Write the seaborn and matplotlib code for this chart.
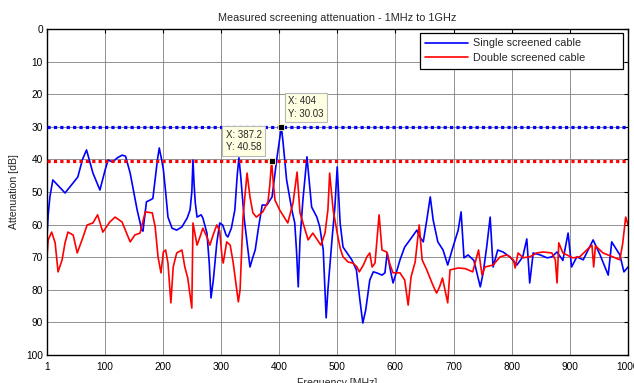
import matplotlib
matplotlib.use("Agg")
import matplotlib.pyplot as plt
import seaborn as sns
import pandas as pd

title = "Measured screening attenuation - 1MHz to 1GHz"
xlabel = "Frequency [MHz]"
ylabel = "Attenuation [dB]"
xticks = [1, 100, 200, 300, 400, 500, 600, 700, 800, 900, 1000]
yticks = [0, 10, 20, 30, 40, 50, 60, 70, 80, 90, 100]
single_label = "Single screened cable"
double_label = "Double screened cable"

single_f = [1, 3, 6, 11, 20, 32, 46, 54, 62, 69, 80, 92, 101, 106, 114, 122, 130, 136, 144, 156, 164, 166,
            172, 178, 183, 187, 191, 194, 198, 201, 205, 209, 216, 224, 233, 242, 247, 250, 252, 254, 256,
            259, 266, 269, 276, 280, 283, 287, 293, 298, 303, 309, 312, 318, 324, 328, 331, 334, 340, 345,
            350, 355, 359, 364, 371, 379, 388, 396, 404, 407, 413, 422, 427, 430, 433, 436, 441, 448, 456,
            465, 470, 476, 481, 484, 491, 496, 500, 505, 510, 517, 525, 533, 539, 544, 549, 556, 562, 568,
            577, 582, 586, 592, 596, 602, 608, 616, 625, 637, 642, 648, 654, 660, 665, 673, 682, 690, 699,
            708, 713, 718, 725, 735, 746, 751, 757, 763, 768, 776, 785, 797, 809, 819, 826, 831, 837, 849,
            861, 869, 878, 888, 897, 903, 912, 923, 940, 952, 966, 972, 986, 993, 1000]
single_db = [63.8, 57, 51.5, 46.3, 48, 50.3, 47.2, 45.4, 40, 37.1, 44.2, 49.4, 43.2, 40.2, 40.8, 39.5, 38.7,
             39, 44.2, 55.5, 61.7, 62, 53, 52.5, 52, 46, 40, 36.5, 40, 43, 50, 57.7, 61.1, 61.7, 60.7, 58,
             55.5, 50, 40.2, 48, 53.4, 57.7, 57, 58, 62.6, 71.8, 82.5, 77, 65.6, 59.5, 60.1, 63.2, 63.8, 61.1,
             55.5, 45, 39.5, 45, 58, 65.6, 73, 70, 67.8, 61.7, 54, 54, 51.5, 40, 30.03, 35, 46.3, 55.5, 59.5,
             68, 79.1, 64.7, 52.5, 39.2, 54.6, 57.7, 60.7, 67.8, 88.6, 80, 64.7, 54.6, 42.3, 59.5, 66.9, 68.7,
             70.8, 73.9, 83.1, 90.2, 86.2, 77, 74.5, 74.8, 75.5, 74.8, 68.7, 74.5, 77.9, 74.5, 70.8, 66.9,
             64.7, 61.7, 63.8, 65.3, 58.6, 51.5, 58.6, 65.3, 67.8, 72.4, 66.9, 61.7, 56.1, 70.2, 69.3, 71,
             79.1, 74.8, 66.9, 57.7, 73, 67.8, 68.4, 69.9, 72.4, 69.9, 64.4, 77.9, 68.7, 69.3, 70.2, 69.9,
             68.4, 71, 62.6, 73, 69.9, 70.8, 64.7, 69.3, 75.5, 65.3, 69.3, 74.5, 73]

double_f = [1, 3, 9, 15, 20, 27, 32, 37, 46, 53, 63, 70, 80, 88, 97, 109, 118, 130, 144, 152, 161, 170, 182,
            187, 192, 197, 201, 205, 209, 214, 218, 224, 233, 238, 243, 250, 252, 259, 264, 269, 276, 281,
            287, 293, 298, 302, 304, 310, 316, 321, 330, 333, 338, 345, 350, 355, 361, 372, 381, 384, 387.2,
            390, 393, 401, 415, 424, 431, 436, 445, 450, 458, 472, 479, 484, 487, 493, 500, 505, 510, 519,
            527, 534, 538, 545, 551, 556, 560, 565, 572, 577, 585, 591, 596, 608, 616, 622, 627, 634, 641,
            646, 654, 663, 668, 671, 676, 681, 690, 694, 708, 720, 733, 743, 749, 754, 768, 780, 792, 803,
            806, 811, 820, 832, 843, 854, 869, 875, 878, 881, 888, 905, 917, 929, 938, 941, 944, 957, 974,
            986, 991, 996, 1000]
double_db = [70, 64.7, 62.3, 65.6, 74.5, 70.8, 65.6, 62.3, 63.2, 68.7, 63.8, 60.1, 59.5, 57, 62.3, 59.2, 57.7,
             59.2, 65.3, 63.2, 62.6, 56.1, 56.4, 60.7, 70, 74.8, 68.4, 67.8, 71.8, 84, 73, 68.7, 67.8, 73,
             76.4, 85.6, 59.5, 66.3, 63.8, 61.1, 63.8, 66.3, 63, 60.1, 62, 70, 71.8, 65.3, 66.3, 71.5, 83.7,
             80, 57.7, 44.2, 51.5, 56.4, 57.7, 56.1, 53, 48, 40.58, 47, 52.5, 55.5, 59.5, 53.4, 43.9, 56.4,
             61.7, 64.7, 62.6, 66.3, 62.6, 55.5, 44.2, 55.5, 62.6, 67.2, 69.9, 71.5, 71.8, 73, 74.5, 72.4,
             69.9, 68.7, 73, 71.8, 57, 67.8, 68.4, 72.4, 74.8, 74.8, 77, 84.7, 76, 71.5, 60.1, 70.8, 73.9,
             77.9, 80, 81, 79.1, 76.4, 84, 73.9, 73.3, 73.5, 74.5, 67.8, 75.5, 73, 72.4, 69.9, 69.3, 70.8,
             73.3, 68.7, 70.2, 69.8, 68.7, 68.4, 68.7, 70.8, 77.9, 65.6, 68.7, 70.2, 69.9, 67.8, 66.3, 73,
             66.5, 68.7, 69.9, 70.8, 65.6, 57.7, 60]

tip_x = [404, 387.2]
tip_y = [30.03, 40.58]
tip_colors = ["blue", "red"]

sns.set_style("white")
plt.rcParams["font.family"] = ["Liberation Sans", "DejaVu Sans"]

fig = plt.figure(figsize=(6.34, 3.83), dpi=100)
ax = fig.add_axes([47 / 634, 28 / 383, 581 / 634, 326 / 383])

df_s = pd.DataFrame({"f": single_f, "db": single_db})
df_d = pd.DataFrame({"f": double_f, "db": double_db})

sns.lineplot(data=df_s, x="f", y="db", ax=ax, color="#0000ff", lw=1.2, label=single_label,
             estimator=None, sort=False)
sns.lineplot(data=df_d, x="f", y="db", ax=ax, color="#ff0000", lw=1.2, label=double_label,
             estimator=None, sort=False)

# reference dotted lines at the data tip levels
for yv, c in zip(tip_y, tip_colors):
    ax.axhline(yv, color=c, lw=2.3, linestyle=(0, (1, 1)), zorder=3)

# data tip markers
ax.scatter(tip_x, tip_y, marker="s", s=22, color="black", edgecolor="#ffffc0", linewidth=0.6, zorder=6)

bbox = dict(boxstyle="square,pad=0.35", fc="#ffffe1", ec="#b8b8b8", lw=0.8)
ax.annotate(f"X: {tip_x[0]:g}\nY: {tip_y[0]:.2f}", xy=(tip_x[0], tip_y[0]), xytext=(7, 8),
            textcoords="offset pixels", ha="left", va="bottom", fontsize=7, bbox=bbox,
            linespacing=1.3, zorder=7)
ax.annotate(f"X: {tip_x[1]:g}\nY: {tip_y[1]:.2f}", xy=(tip_x[1], tip_y[1]), xytext=(-10, 9),
            textcoords="offset pixels", ha="right", va="bottom", fontsize=7, bbox=bbox,
            linespacing=1.3, zorder=7)

ax.set_xlim(1, 1000)
ax.set_ylim(100, 0)
ax.set_xticks(xticks)
ax.set_xticklabels([str(t) for t in xticks])
ax.set_yticks(yticks)
ax.set_yticklabels([str(t) for t in yticks])
ax.grid(True, color="#808080", lw=0.6, linestyle="-")
ax.set_axisbelow(True)
ax.tick_params(direction="in", length=3, width=0.8, top=True, right=True, labelsize=7.3, colors="black")
ax.tick_params(axis="x", pad=5)
ax.tick_params(axis="y", pad=3)
for s in ax.spines.values():
    s.set_visible(True)
    s.set_color("black")
    s.set_linewidth(1.0)

ax.set_title(title, fontsize=7.8, pad=6)
ax.set_xlabel(xlabel, fontsize=7.6, labelpad=4)
ax.set_ylabel(ylabel, fontsize=7.6, labelpad=5)

leg = ax.legend(loc="upper left", bbox_to_anchor=(0.642, 0.88, 0.349, 0.108), mode="expand",
                fontsize=7.8, frameon=True, fancybox=False, framealpha=1, edgecolor="black",
                handlelength=3.9, handletextpad=0.5, borderaxespad=0.0, borderpad=0.5,
                labelspacing=0.45)
leg.get_frame().set_linewidth(0.9)

fig.savefig("out.png", dpi=100)
